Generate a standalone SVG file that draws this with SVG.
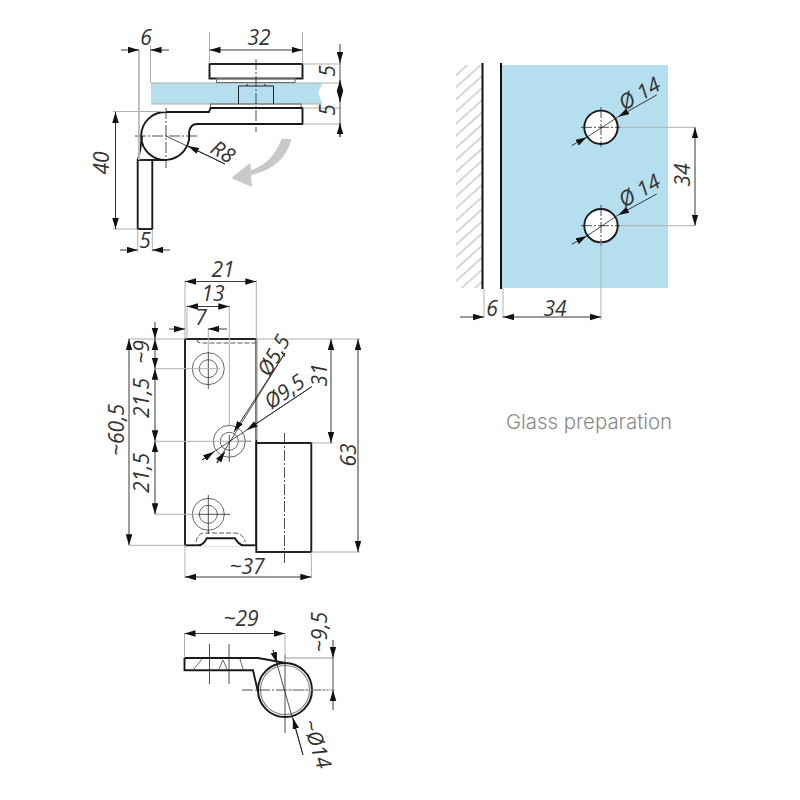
<svg xmlns="http://www.w3.org/2000/svg" width="800" height="800" viewBox="0 0 800 800">
<style>
text{font-family:"Open Sans","Noto Sans",sans-serif;font-style:italic;font-size:21px;fill:#333;text-anchor:middle}
.o{fill:none;stroke:#1a1a1a;stroke-width:1.900}
.f{fill:#fff;stroke:#1a1a1a;stroke-width:1.900}
.t{fill:none;stroke:#666;stroke-width:1}
.e{fill:none;stroke:#b0b0b0;stroke-width:1}
.d{fill:none;stroke:#222;stroke-width:.9;marker-start:url(#a);marker-end:url(#a)}
.d1{fill:none;stroke:#222;stroke-width:.9;marker-end:url(#a)}
.c{fill:none;stroke:#222;stroke-width:.8;stroke-dasharray:11 2 2 2}
.x{fill:none;stroke:#222;stroke-width:.8}
.h{fill:none;stroke:#444;stroke-width:.9;stroke-dasharray:5 2}
.b{fill:#b5deef}
text.g{font-family:"Inter","Noto Sans",sans-serif;font-style:normal;font-weight:300;font-size:20.400px;fill:#8a8a8a}
</style>
<defs>
<marker id="a" markerWidth="13" markerHeight="8" refX="11" refY="3.250" orient="auto-start-reverse" markerUnits="userSpaceOnUse"><path d="M0 0L11 3.250L0 6.500Z" fill="#111"/></marker>
<pattern id="hp" width="9" height="9" patternUnits="userSpaceOnUse" patternTransform="rotate(-42)"><path d="M0 1H9" stroke="#999" stroke-width=".8"/></pattern>
</defs>

<g id="side-view">
<rect class="b" x="151" y="83" width="171" height="21"/>
<path d="M323 82l-5 11 5 12Z" fill="#fff"/>
<path class="e" d="M151 83H322M151 104H322"/>
<rect class="f" x="209.500" y="64" width="93" height="14.500"/>
<rect class="t" x="216.500" y="78.500" width="78.500" height="4"/>
<rect class="t" x="210.500" y="104" width="90.500" height="4"/>
<path d="M238.500 104V86H273.500V104M247 86V84M265 86V84" fill="none" stroke="#222" stroke-width="1"/>
<path class="o" d="M166 112H209L210.500 108H302.500V124H197Q190 124 189 133A24 24 0 1 1 166 112Z"/>
<path class="o" d="M142 136Q141 148 138 160"/>
<path class="o" d="M166 160H152.500"/>
<rect class="f" x="137.700" y="160" width="14.600" height="69"/>
<path class="c" d="M256 59V132M135 136H197M166 108V168"/>
<path d="M291.500 139Q284 168 251 175L252 187L231.500 178L250 163L251 170Q272 164 281.500 139Z" fill="#c9c9c9"/>
</g>

<g id="front-view">
<rect class="f" x="185" y="339" width="71.300" height="206.300"/>
<rect class="f" x="256.300" y="443" width="55" height="109"/>
<path d="M198 546.500Q204 546 206.700 539H235Q238 545 243 546.500Z" fill="#fff" stroke="none"/>
<path d="M199 545.300Q204 544 206.700 538.300H235Q238 544 243 545.300" fill="none" stroke="#1a1a1a" stroke-width="1.900"/>
<path class="h" d="M196 542Q197 534 204 533H235Q244 534 245 542"/>
<path class="h" d="M197 340Q197 343 201 343H256"/>
<g id="hole-1"><circle class="t" cx="208.300" cy="368.700" r="16"/><circle class="t" cx="208.300" cy="368.700" r="9"/></g>
<g id="hole-2"><circle class="t" cx="229.300" cy="441.300" r="16"/><circle class="t" cx="229.300" cy="441.300" r="9"/></g>
<g id="hole-3"><circle class="t" cx="208.300" cy="514.300" r="16"/><circle class="t" cx="208.300" cy="514.300" r="9"/></g>
<path class="x" d="M208.300 352V389M208.300 495V534M198 514.300H230M229.300 435V462M238 441.300H251"/>
<path class="c" d="M284.500 433V563"/>
</g>

<g id="bottom-view">
<circle cx="285" cy="690" r="27" fill="none" stroke="#1a1a1a" stroke-width="2"/>
<circle cx="285" cy="690" r="24.500" fill="none" stroke="#888" stroke-width="1.200"/>
<path class="o" d="M184.500 658H258Q270 660 285 663"/>
<path class="o" d="M184.500 658V670.300H253L258 692"/>
<path class="t" d="M194 669L202 659M219 669L223 660L227 669M243 669L240 659"/>
<path class="x" d="M209.500 644V684M229 644V684M285 655V733"/>
<path class="c" d="M242 690H328"/>
</g>

<g id="glass-view">
<rect x="456" y="65" width="26" height="223" fill="url(#hp)"/>
<rect class="b" x="502" y="65" width="166" height="223"/>
<path d="M482.500 63V289M501 63V289" fill="none" stroke="#111" stroke-width="2"/>
<g id="glass-hole-1"><circle class="f" cx="601" cy="127.300" r="16.700"/></g>
<g id="glass-hole-2"><circle class="f" cx="601" cy="225.700" r="16.700"/></g>
<path class="c" d="M581 127.300H620M601 107V147M581 225.700H620M601 205V246"/>
<text class="g" x="589" y="429">Glass preparation</text>
</g>

<g id="connectors">
<path class="e" d="M150.500 45V83M302.500 32V64M209.500 32V64M302.500 64H340M322 83H340M302.500 124H340M302.500 108H340M166 111.500H113M137.700 229H113M137.700 229V252M152.300 229V252"/>
<path d="M139 50V160" fill="none" stroke="#bbb" stroke-width="1.800"/>
<path class="e" d="M185 280V339M256.300 280V440M187 305V339M229.300 305V425M208.300 328V352M185 339H128M256.300 339H360M155 368.700H220M155 441.300H250M155 514.300H198M130 545.300H185M311.300 443H333M311.300 552H360M185 545V578M311.300 552V578"/>
<path class="e" d="M184.500 634V658M285 634V660M285 690H335"/>
<path d="M285 658H333" fill="none" stroke="#bbb" stroke-width="1.500"/>
<path class="e" d="M620 127.300H695M620 225.700H695M601 242V320M484 288V318M503 288V318"/>

<path class="d1" d="M121 50H139"/><path class="d1" d="M169 50H150.500"/>
<path class="d" d="M209.500 50H302.500"/>
<path class="x" d="M340 53V137"/>
<path class="d1" d="M340 44V63"/><path class="d1" d="M340 95V80"/><path class="d1" d="M340 88V102"/><path class="d1" d="M340 137V123"/>
<path class="d" d="M115.500 112V229"/>
<path class="d1" d="M120 250H137.700"/><path class="d1" d="M170 250H152.300"/>
<path class="x" d="M166 136L225 164"/><path class="d1" d="M225 164L188 146"/>

<path class="d" d="M185 281.500H256.300"/>
<path class="d" d="M187 306.500H229.300"/>
<path class="d1" d="M169 329H185"/><path class="d1" d="M227 329H208.300"/>
<path class="d1" d="M155 322V339"/><path class="d" d="M155 339V368.700"/>
<path class="d" d="M155 368.700V441.300"/>
<path class="d" d="M155 441.300V514.300"/>
<path class="d" d="M129 339V545.300"/>
<path class="d" d="M331 339V443"/>
<path class="d" d="M358 339V552"/>
<path class="d" d="M185 577H311.300"/>
<path class="x" d="M285 353L216.700 463M311.700 386.700L201.700 460"/>
<path class="d1" d="M285 353L234 431.700"/><path class="d1" d="M311.700 386.700L246.700 430"/>
<path class="d1" d="M202 460L214 451.700"/><path class="d1" d="M217 463L225 451.700"/>

<path class="d" d="M184.500 633.500H285"/>
<path class="d1" d="M333 640V658"/><path class="d1" d="M333 710V690"/>
<path class="x" d="M333 658V690"/>
<path class="x" d="M273 650L303 755"/>
<path class="d1" d="M273 650L277 663"/><path class="d1" d="M303 755L293 718"/>

<path class="d1" d="M571.700 145.700L586.700 137.300"/><path class="d1" d="M656.700 95L618.300 116.700"/><path class="x" d="M586.700 137.300L618.300 116.700"/>
<path class="d1" d="M571.700 244.300L586.700 236"/><path class="d1" d="M656.700 194L618.300 215"/><path class="x" d="M586.700 236L618.300 215"/>
<path class="d" d="M695 127.300V225.700"/>
<path class="d1" d="M460 317H484"/><path class="d" d="M503 317H601"/>
</g>

<g id="labels">
<text x="146" y="45">6</text>
<text x="259" y="45">32</text>
<text transform="translate(335 71) rotate(-90)">5</text>
<text transform="translate(335 110) rotate(-90)">5</text>
<text transform="translate(109 163) rotate(-90)">40</text>
<text x="145" y="248">5</text>
<text transform="translate(219 158) rotate(32)">R8</text>
<text x="223" y="277">21</text>
<text x="213" y="301">13</text>
<text x="201" y="325">7</text>
<text transform="translate(149 352) rotate(-90)">~9</text>
<text transform="translate(149 398) rotate(-90)">21,5</text>
<text transform="translate(149 473) rotate(-90)">21,5</text>
<text transform="translate(124 430) rotate(-90)">~60,5</text>
<text transform="translate(280 359) rotate(-60)">Ø5,5</text>
<text transform="translate(288.600 397.600) rotate(-35)">Ø9,5</text>
<text transform="translate(327 375) rotate(-90)">31</text>
<text transform="translate(356 455) rotate(-90)">63</text>
<text x="247" y="574">~37</text>
<text x="241" y="626">~29</text>
<text transform="translate(327 632) rotate(-90)">~9,5</text>
<text transform="translate(310 746) rotate(72)">~Ø14</text>
<text transform="translate(643 100) rotate(-30)">Ø 14</text>
<text transform="translate(643 197) rotate(-30)">Ø 14</text>
<text transform="translate(690 175) rotate(-90)">34</text>
<text x="492" y="316">6</text>
<text x="555" y="316">34</text>
</g>
</svg>
